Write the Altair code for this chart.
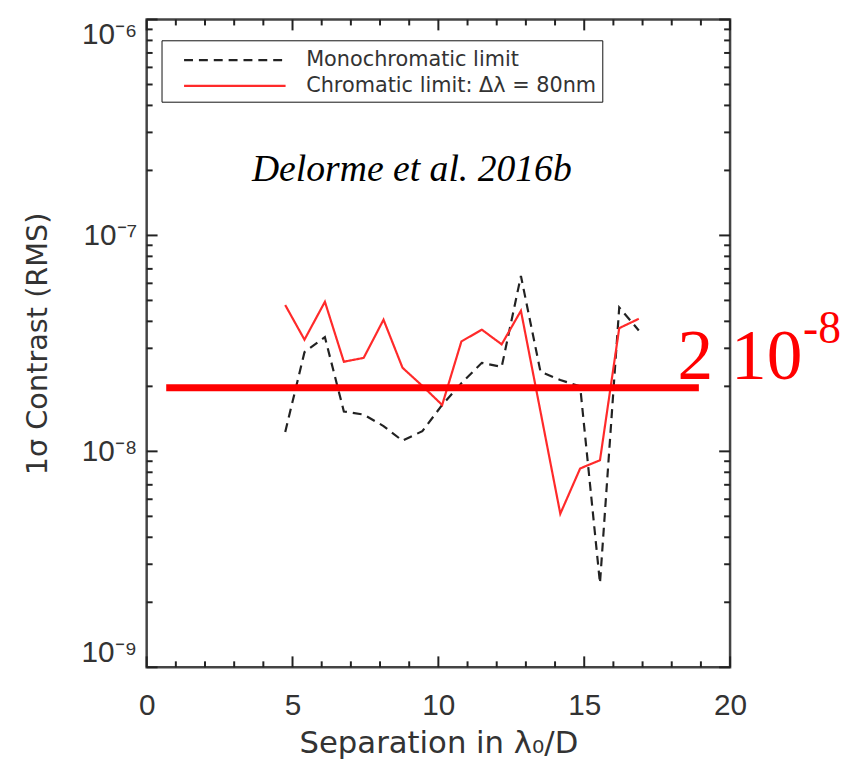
import altair as alt
import pandas as pd

# ---------------- data ----------------
separation = [4.75, 5.41, 6.11, 6.76, 7.44, 8.12, 8.77, 9.45, 10.13, 10.79,
              11.49, 12.17, 12.83, 13.50, 14.18, 14.86, 15.54, 16.20, 16.87]
mono_contrast = [1.23e-8, 2.88e-8, 3.38e-8, 1.53e-8, 1.48e-8, 1.31e-8, 1.12e-8,
                 1.24e-8, 1.64e-8, 2.07e-8, 2.57e-8, 2.46e-8, 6.49e-8, 2.34e-8,
                 2.14e-8, 2.00e-8, 2.45e-9, 4.64e-8, 3.63e-8]
chrom_contrast = [4.76e-8, 3.29e-8, 4.93e-8, 2.60e-8, 2.71e-8, 4.07e-8, 2.44e-8,
                  2.01e-8, 1.64e-8, 3.23e-8, 3.66e-8, 3.13e-8, 4.48e-8, 1.53e-8,
                  5.14e-9, 8.33e-9, 9.10e-9, 3.72e-8, 4.11e-8]
series_names = ["Monochromatic limit", "Chromatic limit: Δλ = 80nm"]

limit_x = [0.67, 18.93]
limit_y = [1.97e-8, 1.97e-8]

citation_text = ["Delorme et al. 2016b"]
citation_x = [9.09]
citation_y = [1.79e-7]

limit_label = ["2 10"]
limit_label_x = [18.2]
limit_label_y = [2.16e-8]
limit_exp = ["-8"]
limit_exp_x = [22.5]
limit_exp_y = [3.17e-8]

x_major = [0, 5, 10, 15, 20]
x_minor = [1, 2, 3, 4, 6, 7, 8, 9, 11, 12, 13, 14, 16, 17, 18, 19]
y_major = [1e-9, 1e-8, 1e-7, 1e-6]
y_minor = [2e-9, 3e-9, 4e-9, 5e-9, 6e-9, 7e-9, 8e-9, 9e-9,
           2e-8, 3e-8, 4e-8, 5e-8, 6e-8, 7e-8, 8e-8, 9e-8,
           2e-7, 3e-7, 4e-7, 5e-7, 6e-7, 7e-7, 8e-7, 9e-7]

# ---------------- tables ----------------
lines_df = pd.DataFrame({
    "sep": separation * 2,
    "contrast": mono_contrast + chrom_contrast,
    "series": [series_names[0]] * len(separation) + [series_names[1]] * len(separation),
})
limit_df = pd.DataFrame({"x": [limit_x[0]], "x2": [limit_x[1]], "y": [limit_y[0]]})
cit_df = pd.DataFrame({"x": citation_x, "y": citation_y, "t": citation_text})
lab_df = pd.DataFrame({"x": limit_label_x, "y": limit_label_y, "t": limit_label})
exp_df = pd.DataFrame({"x": limit_exp_x, "y": limit_exp_y, "t": limit_exp})
xmaj_df = pd.DataFrame({"v": x_major})
xmin_df = pd.DataFrame({"v": x_minor})
ymaj_df = pd.DataFrame({"v": y_major})
ymin_df = pd.DataFrame({"v": y_minor})

W, H = 589, 654
MAJ, MIN = 11, 6
LAB = "Liberation Sans"
TIT = "DejaVu Sans"
TXT = "#333333"
TICK = "#222222"

xscale = alt.Scale(domain=[0, 20], nice=False, zero=False)
yscale = alt.Scale(type="log", domain=[1e-9, 1e-6], nice=False)

x_axis = alt.Axis(values=x_major, tickSize=0, domain=False, grid=False,
                  labelFont=LAB, labelFontSize=30, labelColor=TXT,
                  labelPadding=24, labelFlush=False, format="d",
                  title="Separation in λ₀/D", titleFont=TIT, titleFontSize=31,
                  titleFontWeight="normal", titleColor=TXT, titlePadding=8)
y_axis = alt.Axis(values=y_major, tickSize=0, domain=False, grid=False,
                  labelFont=LAB, labelFontSize=30, labelColor=TXT,
                  labelPadding=10, labelFlush=True,
                  labelExpr="'10' + ['⁻⁹','⁻⁸','⁻⁷','⁻⁶'][round(log(datum.value)/LN10) + 9]",
                  title="1σ Contrast (RMS)", titleFont=TIT, titleFontSize=29,
                  titleFontWeight="normal", titleColor=TXT, titlePadding=29)

lines = alt.Chart(lines_df).mark_line(strokeWidth=2.2).encode(
    x=alt.X("sep:Q", scale=xscale, axis=x_axis),
    y=alt.Y("contrast:Q", scale=yscale, axis=y_axis),
    color=alt.Color("series:N",
                    scale=alt.Scale(domain=series_names, range=["#222222", "#ff2a2a"]),
                    legend=alt.Legend(orient="none", legendX=15, legendY=21, title=None,
                                      symbolType="M-4.1,0H4.1", symbolSize=625,
                                      symbolStrokeWidth=2.2, symbolOffset=54,
                                      labelFont=TIT, labelFontSize=21, labelColor=TXT,
                                      labelOffset=58, labelLimit=0, rowPadding=2,
                                      padding=6, strokeColor="#111111",
                                      fillColor="white")),
    strokeDash=alt.StrokeDash("series:N",
                              scale=alt.Scale(domain=series_names, range=[[9, 6], [1, 0]]),
                              legend=None),
)

limit = alt.Chart(limit_df).mark_rule(color="#ff0000", strokeWidth=7).encode(
    x=alt.X("x:Q", scale=xscale), x2="x2:Q",
    y=alt.Y("y:Q", scale=yscale),
)

citation = alt.Chart(cit_df).mark_text(
    font="Liberation Serif", fontStyle="italic", fontSize=38, color="#000000",
    align="center", baseline="alphabetic").encode(
    x=alt.X("x:Q", scale=xscale), y=alt.Y("y:Q", scale=yscale), text="t:N")

label = alt.Chart(lab_df).mark_text(
    font="Liberation Serif", fontSize=72, color="#ff0000",
    align="left", baseline="alphabetic").encode(
    x=alt.X("x:Q", scale=xscale), y=alt.Y("y:Q", scale=yscale), text="t:N")

exponent = alt.Chart(exp_df).mark_text(
    font="Liberation Serif", fontSize=46, color="#ff0000",
    align="left", baseline="alphabetic").encode(
    x=alt.X("x:Q", scale=xscale), y=alt.Y("y:Q", scale=yscale), text="t:N")


# inward IDL-style ticks on all four sides
def xticks(df, size):
    base = alt.Chart(df).mark_rule(color=TICK, strokeWidth=2)
    bottom = base.encode(x=alt.X("v:Q", scale=xscale), y=alt.value(H), y2=alt.value(H - size))
    top = base.encode(x=alt.X("v:Q", scale=xscale), y=alt.value(0), y2=alt.value(size))
    return [bottom, top]


def yticks(df, size):
    base = alt.Chart(df).mark_rule(color=TICK, strokeWidth=2)
    left = base.encode(y=alt.Y("v:Q", scale=yscale), x=alt.value(0), x2=alt.value(size))
    right = base.encode(y=alt.Y("v:Q", scale=yscale), x=alt.value(W), x2=alt.value(W - size))
    return [left, right]


ticks = xticks(xmaj_df, MAJ) + xticks(xmin_df, MIN) + yticks(ymaj_df, MAJ) + yticks(ymin_df, MIN)

chart = alt.layer(lines, *ticks, limit, citation, label, exponent).properties(
    width=W, height=H,
    autosize=alt.AutoSizeParams(type="none"),
    padding={"left": 140, "top": 8, "right": 113, "bottom": 90},
).configure_view(
    stroke="#444444", strokeWidth=2.5
).configure_axis(grid=False)

chart.save("out.html", embed_options={"renderer": "svg", "actions": False})
